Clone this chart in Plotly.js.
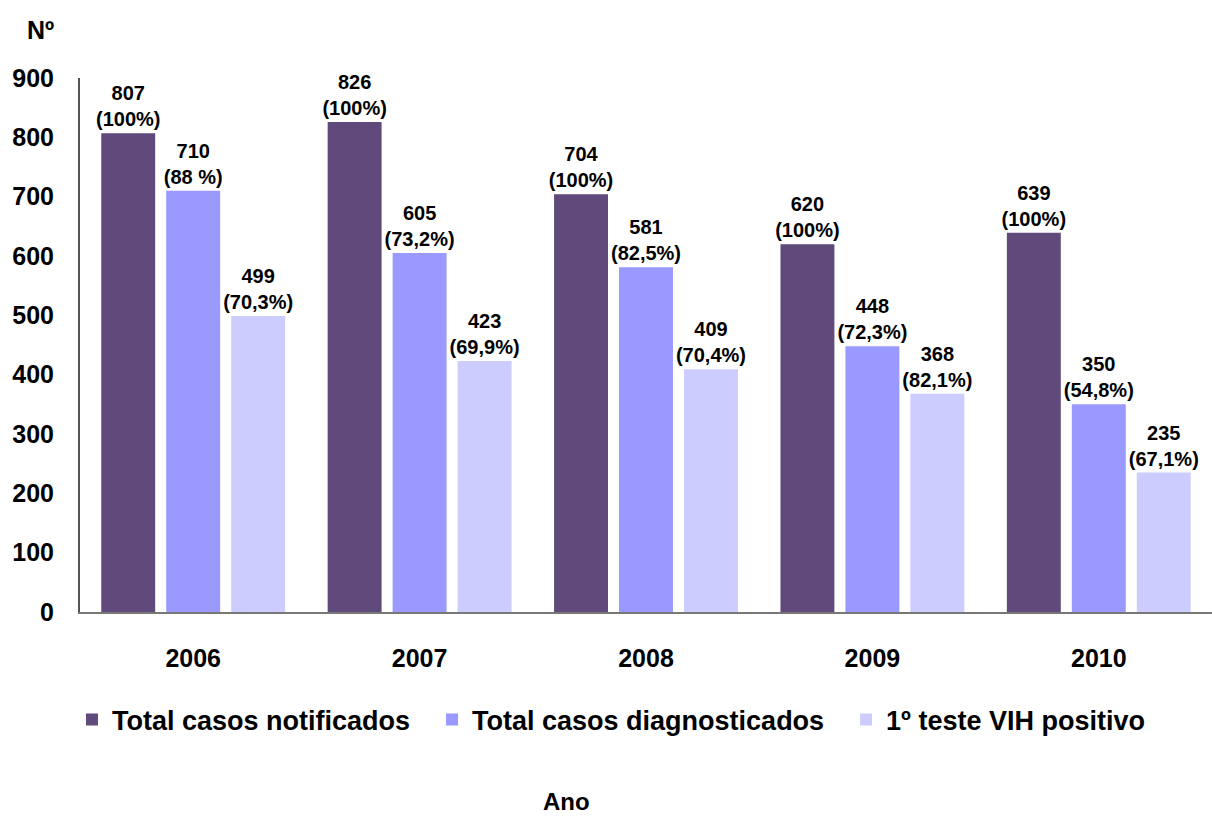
<!DOCTYPE html>
<html>
<head>
<meta charset="utf-8">
<script src="https://cdn.plot.ly/plotly-3.0.1.min.js"></script>
<style>html,body{margin:0;padding:0;background:#fff;}#chart{width:1212px;height:817px;}</style>
</head>
<body>
<div id="chart"></div>
<script>
const years = ['2006', '2007', '2008', '2009', '2010'];
const seriesNames = ['Total casos notificados', 'Total casos diagnosticados', '1º teste VIH positivo'];
const notificados = [807, 826, 704, 620, 639];
const diagnosticados = [710, 605, 581, 448, 350];
const testePositivo = [499, 423, 409, 368, 235];
const pctNotificados = ['100%', '100%', '100%', '100%', '100%'];
const pctDiagnosticados = ['88 %', '73,2%', '82,5%', '72,3%', '54,8%'];
const pctTeste = ['70,3%', '69,9%', '70,4%', '82,1%', '67,1%'];
const colors = ['#604A7B', '#9999FF', '#CCCCFF'];

const FONT = 'Liberation Sans, Arial, sans-serif';
function mk(name, vals, pcts, color, leg) {
  return {
    type: 'bar', name: name, x: years, y: vals, legend: leg,
    text: vals.map((v, i) => v + '<br>(' + pcts[i] + ')'),
    textposition: 'outside', cliponaxis: false, constraintext: 'none',
    textfont: {family: FONT, size: 20, color: '#000', weight: 'bold'},
    marker: {color: color},
    hoverinfo: 'x+y'
  };
}
const data = [
  mk(seriesNames[0], notificados, pctNotificados, colors[0], 'legend'),
  mk(seriesNames[1], diagnosticados, pctDiagnosticados, colors[1], 'legend2'),
  mk(seriesNames[2], testePositivo, pctTeste, colors[2], 'legend3')
];
const legFont = {family: FONT, size: 27, color: '#000', weight: 'bold'};
function leg(x) {
  return {orientation: 'h', x: x, xanchor: 'left', y: -0.202, yanchor: 'middle', font: legFont, bgcolor: 'rgba(0,0,0,0)'};
}
const layout = {
  width: 1212, height: 817,
  margin: {l: 80, r: 0, t: 78, b: 205},
  paper_bgcolor: '#fff', plot_bgcolor: '#fff',
  font: {family: FONT, color: '#000'},
  barmode: 'group', bargap: 0.139, bargroupgap: 0.17,
  showlegend: true,
  legend: leg(-0.0071),
  legend2: leg(0.3110),
  legend3: leg(0.6767),
  xaxis: {showline: true, linecolor: '#777', linewidth: 2, ticks: '', showgrid: false,
          tickfont: {family: FONT, size: 25, color: '#000', weight: 'bold'}, ticklabelstandoff: 23},
  yaxis: {range: [0, 900], dtick: 100, showline: true, linecolor: '#555', linewidth: 2, ticks: '', showgrid: false,
          zeroline: false, tickfont: {family: FONT, size: 25, color: '#000', weight: 'bold'}, ticklabelstandoff: 19},
  annotations: [
    {text: 'Nº', xref: 'paper', yref: 'paper', x: -0.0345, y: 1.09, xanchor: 'center', yanchor: 'middle',
     showarrow: false, font: {family: FONT, size: 25, color: '#000', weight: 'bold'}},
    {text: 'Ano', xref: 'paper', yref: 'paper', x: 0.430, y: -0.354, xanchor: 'center', yanchor: 'middle',
     showarrow: false, font: {family: FONT, size: 24, color: '#000', weight: 'bold'}}
  ]
};
Plotly.newPlot('chart', data, layout, {displayModeBar: false});
</script>
</body>
</html>
